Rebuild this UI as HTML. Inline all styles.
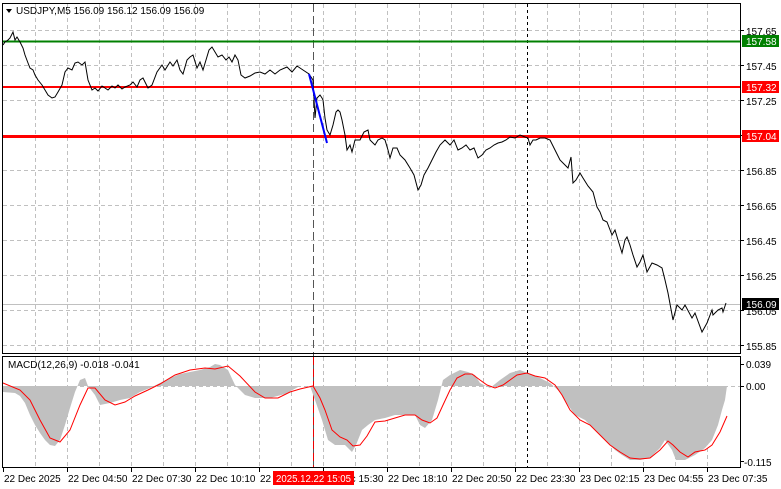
<!DOCTYPE html>
<html><head><meta charset="utf-8"><style>
html,body{margin:0;padding:0;background:#fff;}
svg{display:block;font-family:"Liberation Sans",sans-serif;}
</style></head><body>
<svg width="781" height="489" viewBox="0 0 781 489" xmlns="http://www.w3.org/2000/svg">
<rect width="781" height="489" fill="#fff"/>
<g stroke="#c0c0c0" stroke-width="1" stroke-dasharray="4,3" fill="none">
<path d="M35.5 4V353M67.5 4V353M99.5 4V353M131.5 4V353M163.5 4V353M195.5 4V353M227.5 4V353M259.5 4V353M291.5 4V353M323.5 4V353M355.5 4V353M387.5 4V353M419.5 4V353M451.5 4V353M483.5 4V353M515.5 4V353M547.5 4V353M579.5 4V353M611.5 4V353M643.5 4V353M675.5 4V353M707.5 4V353"/>
<path d="M35.5 357V467M67.5 357V467M99.5 357V467M131.5 357V467M163.5 357V467M195.5 357V467M227.5 357V467M259.5 357V467M291.5 357V467M323.5 357V467M355.5 357V467M387.5 357V467M419.5 357V467M451.5 357V467M483.5 357V467M515.5 357V467M547.5 357V467M579.5 357V467M611.5 357V467M643.5 357V467M675.5 357V467M707.5 357V467"/>
<path d="M3 30.5H740M3 65.5H740M3 100.5H740M3 135.5H740M3 170.5H740M3 205.5H740M3 240.5H740M3 275.5H740M3 310.5H740M3 345.5H740"/>
<path d="M3 386.5H740"/>
</g>
<line x1="3" y1="304.5" x2="740" y2="304.5" stroke="#c0c0c0"/>
<line x1="527.5" y1="4" x2="527.5" y2="467" stroke="#000" stroke-dasharray="3,3"/>
<line x1="313.5" y1="4" x2="313.5" y2="467" stroke="#555" stroke-dasharray="8,4"/>
<line x1="313.5" y1="357" x2="313.5" y2="467" stroke="#e00" stroke-dasharray="8,4"/>
<line x1="3" y1="41.5" x2="740" y2="41.5" stroke="#008000" stroke-width="2"/>
<line x1="3" y1="87" x2="740" y2="87" stroke="#ff0000" stroke-width="2"/>
<line x1="3" y1="136.5" x2="740" y2="136.5" stroke="#ff0000" stroke-width="3"/>
<polyline fill="none" stroke="#000" stroke-width="1" points="3,45 5,42 8,40 10,38 13,32 15,40 17,37 20,42 23,48 25,55 28,63 30,68 33,70 35,75 38,80 42,85 45,90 48,95 52,98 55,97 58,92 62,85 65,72 68,68 72,70 75,63 78,62 82,65 85,62 88,80 92,90 95,88 98,91 102,86 105,88 108,90 112,86 115,88 118,85 122,89 125,87 130,85 133,82 137,87 140,80 143,78 145,82 148,88 152,85 157,72 162,65 165,70 170,62 173,66 177,60 180,70 183,74 187,60 190,57 193,55 197,68 200,62 203,70 206,60 209,50 212,47 215,52 218,57 222,55 226,60 229,57 232,62 235,55 238,60 241,75 245,78 250,76 255,73 260,72 265,74 270,70 275,74 280,70 287,67 292,72 297,66 303,70 309,74 313,80 315,118 317,98 320,95 322,98 323,100 325,118 327,130 330,135 333,125 336,112 338,110 340,112 342,120 345,135 347,150 350,145 352,152 355,140 360,140 364,132 368,130 370,140 375,145 378,140 382,138 385,140 388,150 390,158 393,148 397,148 400,155 405,160 410,168 414,175 418,190 421,185 424,175 428,168 432,160 436,152 440,145 445,140 450,145 454,140 458,150 462,148 466,145 470,150 474,148 478,158 482,155 486,150 490,148 494,145 498,143 502,142 506,140 510,137 515,138 520,135 525,137 528,138 530,145 533,140 536,140 540,138 545,138 550,140 555,150 560,160 565,165 568,168 571,157 573,183 576,180 580,173 583,178 588,186 593,192 597,207 600,212 603,220 607,222 612,235 615,230 618,240 622,253 625,240 627,237 630,245 633,255 637,267 640,262 643,255 647,272 652,263 657,265 662,268 665,280 668,293 673,320 677,305 682,310 685,305 692,318 695,313 702,332 707,323 712,310 713,315 718,310 722,308 723,312 726,303"/>
<line x1="309" y1="74" x2="327" y2="143" stroke="#0000ff" stroke-width="2"/>
<polygon fill="#c0c0c0" points="3,386 3,392 15,393 20,396 25,403 30,415 35,425 40,433 45,440 50,445 55,446 60,440 65,425 70,408 75,392 80,380 85,378 88,386 95,395 100,405 110,403 120,400 130,398 140,392 150,388 160,383 170,378 180,374 190,372 200,370 210,367 215,364 220,365 228,370 235,385 245,395 255,398 270,398 285,394 300,386 310,386 315,400 322,420 328,440 335,445 345,445 352,452 356,445 362,430 368,425 375,420 385,418 395,415 405,415 415,415 420,425 425,428 432,420 438,400 443,380 450,375 460,370 468,372 475,375 480,383 490,388 500,380 510,373 520,370 530,374 540,378 550,383 560,392 568,405 575,415 585,420 595,430 605,440 615,450 622,455 630,460 640,460 650,458 660,448 665,440 672,450 676,460 685,460 695,455 705,448 712,440 718,425 722,410 725,400 727,386"/>
<polyline fill="none" stroke="#ff0000" stroke-width="1" points="3,383 20,390 30,400 40,420 50,438 60,442 70,430 80,405 88,388 95,388 105,400 115,405 125,402 135,396 148,390 160,384 175,375 190,370 205,368 215,369 228,366 240,376 255,392 265,398 278,398 290,392 300,389 313,386 320,398 325,410 332,430 340,437 347,440 353,446 360,445 367,436 375,422 385,421 395,418 405,415 415,415 422,420 430,423 437,418 443,405 450,390 457,378 465,374 472,374 480,380 487,385 495,388 503,385 510,380 517,375 527,373 535,376 545,378 555,385 562,395 570,410 580,420 590,425 600,435 610,445 620,452 630,458 640,459 650,458 660,450 668,441 673,445 680,452 688,457 695,452 705,450 712,445 720,432 727,416"/>
<rect x="2.5" y="3.5" width="738" height="350" fill="none" stroke="#000"/>
<rect x="2.5" y="356.5" width="738" height="111" fill="none" stroke="#000"/>
<g stroke="#000"><path d="M740 30.5h4M740 65.5h4M740 100.5h4M740 135.5h4M740 170.5h4M740 205.5h4M740 240.5h4M740 275.5h4M740 310.5h4M740 345.5h4M740 364.5h4M740 386.5h4M740 461.5h4M3.5 467v5M67.5 467v5M131.5 467v5M195.5 467v5M259.5 467v5M323.5 467v5M387.5 467v5M451.5 467v5M515.5 467v5M579.5 467v5M643.5 467v5M707.5 467v5"/></g>
<g font-size="10" fill="#000">
<text x="746" y="35">157.65</text>
<text x="746" y="70">157.45</text>
<text x="746" y="105">157.25</text>
<text x="746" y="175">156.85</text>
<text x="746" y="210">156.65</text>
<text x="746" y="245">156.45</text>
<text x="746" y="280">156.25</text>
<text x="746" y="315">156.05</text>
<text x="746" y="350">155.85</text>
<text x="746" y="368">0.039</text>
<text x="746" y="390">0.00</text>
<text x="744" y="466">-0.115</text>
</g>
<rect x="742" y="35" width="37" height="12" fill="#008000"/><text x="746" y="45" font-size="10" fill="#fff">157.58</text>
<rect x="742" y="81" width="37" height="12" fill="#ff0000"/><text x="746" y="91" font-size="10" fill="#fff">157.32</text>
<rect x="742" y="130" width="37" height="12" fill="#ff0000"/><text x="746" y="140" font-size="10" fill="#fff">157.04</text>
<rect x="742" y="298" width="37" height="12" fill="#000"/><text x="746" y="308" font-size="10" fill="#fff">156.09</text>
<g font-size="10" fill="#000">
<text x="4" y="482">22 Dec 2025</text>
<text x="68" y="482">22 Dec 04:50</text>
<text x="132" y="482">22 Dec 07:30</text>
<text x="196" y="482">22 Dec 10:10</text>
<text x="260" y="482">22 Dec 12:50</text>
<text x="324" y="482">22 Dec 15:30</text>
<text x="388" y="482">22 Dec 18:10</text>
<text x="452" y="482">22 Dec 20:50</text>
<text x="516" y="482">22 Dec 23:30</text>
<text x="580" y="482">23 Dec 02:15</text>
<text x="644" y="482">23 Dec 04:55</text>
<text x="708" y="482">23 Dec 07:35</text>
</g>
<rect x="273" y="471" width="81" height="14" fill="#ff0000"/>
<text x="276" y="482" font-size="10" fill="#fff" textLength="75" lengthAdjust="spacingAndGlyphs">2025.12.22 15:05</text>
<path d="M6 9h6l-3 4z" fill="#000"/>
<text x="16" y="14" font-size="10" fill="#000">USDJPY,M5  156.09 156.12 156.09 156.09</text>
<text x="8" y="368" font-size="10" fill="#000">MACD(12,26,9) -0.018 -0.041</text>
</svg>
</body></html>
